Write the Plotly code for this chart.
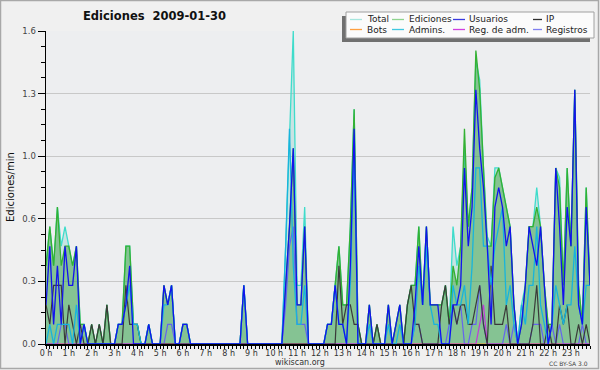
import plotly.graph_objects as go

# ---------------- data (10-minute bins, edits per minute) ----------------
minutes = list(range(0, 1440, 10))
hour_ticks = [h * 60 for h in range(24)]
hour_labels = [f"{h} h" for h in range(24)]
y_tickvals = [0, 0.32, 0.64, 0.96, 1.28, 1.6]
y_ticktext = ["0.0", "0.3", "0.6", "1.0", "1.3", "1.6"]

total = [
    .4, .6, .4, .7, .5, .6,   .5, .4, .5, .1, .1, 0,   .1, 0, .1, 0, .2, 0,
    0, .1, .1, .5, .5, .1,    .1, 0, 0, .1, 0, 0,      0, .3, .2, .3, 0, 0,
    .1, .1, 0, 0, 0, 0,       0, 0, 0, 0, 0, 0,        0, 0, 0, 0, .3, 0,
    0, 0, 0, 0, 0, 0,         0, 0, 0, .5, 1.1, 1.6,   .3, .3, .7, 0, 0, 0,
    0, 0, .1, .1, .3, .5,     .2, .2, .6, 1.2, .1, 0,  0, .2, 0, .1, 0, 0,
    .2, 0, .1, .2, 0, .2,     .3, .3, .6, .2, .6, .2,  .2, .2, .2, .3, .1, .6,
    .4, .5, 1.0, .6, .8, 1.45, 1.35, .9, .55, .5, .9, .9, .8, .7, .6, .2, 0, .2,
    .3, .6, .6, .8, .6, .3,   .1, .1, .9, .85, .3, .9, .5, 1.3, .3, .1, .8, .3,
]
ediciones = [
    .4, .6, .4, .7, .4, .5,   .5, .4, .5, .1, .1, 0,   .1, 0, .1, 0, .2, 0,
    0, .1, .1, .5, .5, .1,    .1, 0, 0, .1, 0, 0,      0, .3, .2, .3, 0, 0,
    .1, .1, 0, 0, 0, 0,       0, 0, 0, 0, 0, 0,        0, 0, 0, 0, .3, 0,
    0, 0, 0, 0, 0, 0,         0, 0, 0, .3, .6, 1.0,    .2, .2, .6, 0, 0, 0,
    0, 0, .1, .1, .3, .5,     .2, .2, .6, 1.2, .1, 0,  0, .2, 0, .1, 0, 0,
    .2, 0, .1, .2, 0, .2,     .3, .3, .6, .2, .6, .2,  .2, .2, .2, .3, .1, .4,
    .3, .5, 1.1, .6, .8, 1.5, 1.3, .9, .5, .5, .85, .9, .8, .7, .6, .2, 0, .1,
    .3, .6, .6, .7, .6, .3,   .1, .1, .9, .8, .3, .9,  .5, 1.3, .3, .1, .8, .3,
]
usuarios = [
    .2, .5, .1, .4, .1, .5,   .3, .3, .5, 0, .1, 0,    0, 0, 0, 0, 0, 0,
    0, .1, .1, .2, .4, 0,     0, 0, 0, .1, 0, 0,       0, .3, .2, .3, 0, 0,
    .1, .1, 0, 0, 0, 0,       0, 0, 0, 0, 0, 0,        0, 0, 0, 0, .3, 0,
    0, 0, 0, 0, 0, 0,         0, 0, 0, .3, .6, 1.0,    .2, .2, .6, 0, 0, 0,
    0, 0, .1, .1, .3, .1,     .1, 0, .4, 1.1, 0, 0,    0, .2, 0, 0, 0, 0,
    .2, 0, .1, .2, 0, 0,      0, .2, .5, .2, .6, .2,   .2, .2, 0, 0, 0, .2,
    .2, .3, .9, .5, .7, 1.3,  1.0, .8, .5, .1, .7, .8, .7, .5, .6, .2, 0, .1,
    .3, .6, .5, .4, .6, .3,   0, .1, .9, .6, .2, .7,   .5, 1.3, .2, .1, .7, .3,
]
ip = [
    .2, .1, .3, .3, .3, 0,    .2, .1, 0, .1, 0, 0,     .1, 0, .1, 0, .2, 0,
    0, 0, 0, .3, .1, .1,      .1, 0, 0, 0, 0, 0,       0, 0, 0, 0, 0, 0,
    0, 0, 0, 0, 0, 0,         0, 0, 0, 0, 0, 0,        0, 0, 0, 0, 0, 0,
    0, 0, 0, 0, 0, 0,         0, 0, 0, 0, 0, 0,        0, 0, 0, 0, 0, 0,
    0, 0, 0, 0, 0, .4,        .1, .2, .2, .1, .1, 0,   0, 0, 0, .1, 0, 0,
    0, 0, 0, 0, 0, .2,        .3, .1, .1, 0, 0, 0,     0, 0, .2, .3, .1, .2,
    .1, .2, .2, .1, .1, .2,   .3, .1, 0, .4, .1, .1,   .1, .2, 0, 0, 0, 0,
    0, 0, .1, .3, 0, 0,       .1, 0, 0, .2, .1, .2,    0, 0, .1, 0, .1, 0,
]
bots = [0] * 144
admins = [
    0, .1, 0, .1, .1, .1,     .1, 0, .2, 0, .1, 0,     0, 0, 0, 0, 0, 0,
    0, .1, .1, .2, .3, .1,    .1, 0, 0, .1, 0, 0,      0, .2, .2, .3, 0, 0,
    .1, .1, 0, 0, 0, 0,       0, 0, 0, 0, 0, 0,        0, 0, 0, 0, .3, 0,
    0, 0, 0, 0, 0, 0,         0, 0, 0, .5, 1.1, .4,    .1, .1, .3, 0, 0, 0,
    0, 0, .1, .1, .3, .1,     .1, 0, .3, 1.0, 0, 0,    0, .1, 0, 0, 0, 0,
    .1, 0, 0, .1, 0, 0,       0, .1, .4, .2, .5, .2,   .1, .1, 0, 0, 0, .3,
    .2, .2, .3, .1, .4, .9,   .9, .5, .5, .3, .5, .6,  .7, .2, .3, .1, 0, .2,
    .1, .3, .3, .6, .2, .1,   0, .1, .3, .2, .1, .2,   .2, .5, .2, .1, .3, .3,
]
reg_adm = [0] * 114 + [.1, .2] + [0] * 28
registros = [
    0, 0, 0, 0, .1, .1,       0, 0, 0, 0, 0, 0,        0, 0, 0, 0, 0, 0,
    0, 0, 0, 0, 0, 0,         0, 0, 0, 0, 0, 0,        0, 0, .1, .1, 0, 0,
    0, 0, 0, 0, 0, 0,         0, 0, 0, 0, 0, 0,        0, 0, 0, 0, 0, 0,
    0, 0, 0, 0, 0, 0,         0, 0, 0, .2, .5, .6,     .1, .1, .1, 0, 0, 0,
    0, 0, 0, 0, 0, 0,         0, 0, 0, 0, 0, 0,        0, 0, 0, 0, 0, 0,
    0, 0, 0, 0, 0, 0,         0, .1, .1, 0, 0, 0,      0, 0, 0, 0, .1, .2,
    .1, .2, 0, 0, .1, .1,     .3, .1, 0, 0, 0, 0,      0, .1, 0, .1, 0, 0,
    0, 0, .1, .1, .1, 0,      0, .1, 0, .1, 0, 0,      0, 0, 0, .1, 0, 0,
]

series_names = ["Total", "Ediciones", "Usuarios", "IP", "Bots", "Admins.", "Reg. de adm.", "Registros"]
title_text = "Ediciones\u00a0\u00a02009-01-30"
y_title = "Ediciones/min"

# ---------------- figure ----------------
W, H = 600, 370
L, R, T, B = 46, 10, 31, 26
PW, PH = W - L - R, H - T - B


def px(x):
    return (x - L) / PW


def py(y):
    return (H - B - y) / PH


colors = {
    "Total": "#3fdccb",
    "Ediciones": "#33b133",
    "Usuarios": "#1212ee",
    "IP": "#3a3a3a",
    "Bots": "#ff9a2a",
    "Admins.": "#18b4dc",
    "Reg. de adm.": "#c03cd8",
    "Registros": "#6464ee",
}
legend_colors = {
    "Total": "#a6e6de",
    "Ediciones": "#8fd48f",
    "Usuarios": "#3a3ae0",
    "IP": "#303030",
    "Bots": "#ffa040",
    "Admins.": "#40c8e0",
    "Reg. de adm.": "#d040e0",
    "Registros": "#8080f0",
}

fig = go.Figure()
fig.add_trace(go.Scatter(x=minutes, y=total, mode="lines", name="Total",
                         line=dict(color=colors["Total"], width=1.3),
                         fill="tozeroy", fillcolor="rgba(70,190,180,0.22)"))
fig.add_trace(go.Scatter(x=minutes, y=ediciones, mode="lines", name="Ediciones",
                         line=dict(color=colors["Ediciones"], width=1.3),
                         fill="tozeroy", fillcolor="rgba(60,160,60,0.48)"))
fig.add_trace(go.Scatter(x=minutes, y=bots, mode="lines", name="Bots",
                         line=dict(color=colors["Bots"], width=1.2)))
fig.add_trace(go.Scatter(x=minutes, y=registros, mode="lines", name="Registros",
                         line=dict(color=colors["Registros"], width=1.2)))
fig.add_trace(go.Scatter(x=minutes, y=reg_adm, mode="lines", name="Reg. de adm.",
                         line=dict(color=colors["Reg. de adm."], width=1.2)))
fig.add_trace(go.Scatter(x=minutes, y=ip, mode="lines", name="IP",
                         line=dict(color=colors["IP"], width=1.2)))
fig.add_trace(go.Scatter(x=minutes, y=admins, mode="lines", name="Admins.",
                         line=dict(color=colors["Admins."], width=1.3)))
fig.add_trace(go.Scatter(x=minutes, y=usuarios, mode="lines", name="Usuarios",
                         line=dict(color=colors["Usuarios"], width=1.3)))

FONT = "DejaVu Sans"
shapes = []
annotations = []

# outer border
shapes.append(dict(type="rect", xref="paper", yref="paper", layer="above",
                   x0=px(0.5), x1=px(W - 1.5), y0=py(H - 1.5), y1=py(0.5),
                   line=dict(color="#a8a8a8", width=1.5), fillcolor="rgba(0,0,0,0)"))

# legend box with shadow
shapes.append(dict(type="rect", xref="paper", yref="paper", layer="above",
                   x0=px(342), x1=px(590), y0=py(42), y1=py(16),
                   line=dict(width=0), fillcolor="#707070"))
shapes.append(dict(type="rect", xref="paper", yref="paper", layer="above",
                   x0=px(346), x1=px(594), y0=py(38), y1=py(12),
                   line=dict(color="#a0a0a0", width=1), fillcolor="#fbfbfb"))
col_line = [(350, 362), (392, 404), (453, 465), (533, 542)]
col_text = [366, 408, 468, 545]
rows_y = [19.5, 29.5]
order = [["Total", "Ediciones", "Usuarios", "IP"],
         ["Bots", "Admins.", "Reg. de adm.", "Registros"]]
for r, row in enumerate(order):
    for c, name in enumerate(row):
        shapes.append(dict(type="line", xref="paper", yref="paper", layer="above",
                           x0=px(col_line[c][0]), x1=px(col_line[c][1]),
                           y0=py(rows_y[r]), y1=py(rows_y[r]),
                           line=dict(color=legend_colors[name], width=1.3)))
        annotations.append(dict(text=name, xref="paper", yref="paper",
                                x=px(col_text[c] - 1), y=py(rows_y[r]),
                                xanchor="left", yanchor="middle", showarrow=False,
                                font=dict(family=FONT, size=9, color="#222")))

# title and labels
annotations.append(dict(text="<b>" + title_text + "</b>", xref="paper", yref="paper",
                        x=px(154), y=py(16), xanchor="center", yanchor="middle",
                        showarrow=False, font=dict(family=FONT, size=11.5, color="#111")))
annotations.append(dict(text=y_title, xref="paper", yref="paper", textangle=-90,
                        x=px(10), y=py(187), xanchor="center", yanchor="middle",
                        showarrow=False, font=dict(family=FONT, size=10, color="#111")))
annotations.append(dict(text="wikiscan.org", xref="paper", yref="paper",
                        x=px(300), y=py(362.5), xanchor="center", yanchor="middle",
                        showarrow=False, font=dict(family=FONT, size=8, color="#333")))
annotations.append(dict(text="CC BY-SA 3.0", xref="paper", yref="paper",
                        x=px(590), y=py(363), xanchor="right", yanchor="middle",
                        showarrow=False, font=dict(family=FONT, size=6, color="#444")))

fig.update_layout(
    width=W, height=H,
    margin=dict(l=L, r=R, t=T, b=B, pad=0),
    paper_bgcolor="#f0f0f0",
    plot_bgcolor="#edeef0",
    showlegend=False,
    shapes=shapes,
    annotations=annotations,
    xaxis=dict(range=[0, 1430], tickvals=hour_ticks, ticktext=hour_labels,
               ticks="outside", ticklen=3, tickwidth=1, tickcolor="#000",
               showline=True, linecolor="#000", linewidth=1.5,
               showgrid=False, zeroline=False,
               minor=dict(dtick=10, tick0=0, ticks="outside", ticklen=3,
                          tickcolor="#000", showgrid=False),
               ticklabelstandoff=-2,
               tickfont=dict(family=FONT, size=8, color="#333")),
    yaxis=dict(range=[0, 1.6], tickvals=y_tickvals, ticktext=y_ticktext,
               ticks="outside", ticklen=7, tickwidth=1, tickcolor="#000",
               showline=True, linecolor="#000", linewidth=1.5,
               showgrid=True, gridcolor="#c8c8c8", gridwidth=1, zeroline=False,
               minor=dict(dtick=0.08, tick0=0, ticks="outside", ticklen=4,
                          tickcolor="#000", showgrid=False),
               tickfont=dict(family=FONT, size=8.5, color="#444")),
)

fig.write_html("out.html",
               config={"displayModeBar": False, "staticPlot": True},
               post_script="document.body.style.margin='0';document.body.style.padding='0';"
                           "document.body.style.overflow='hidden';")
